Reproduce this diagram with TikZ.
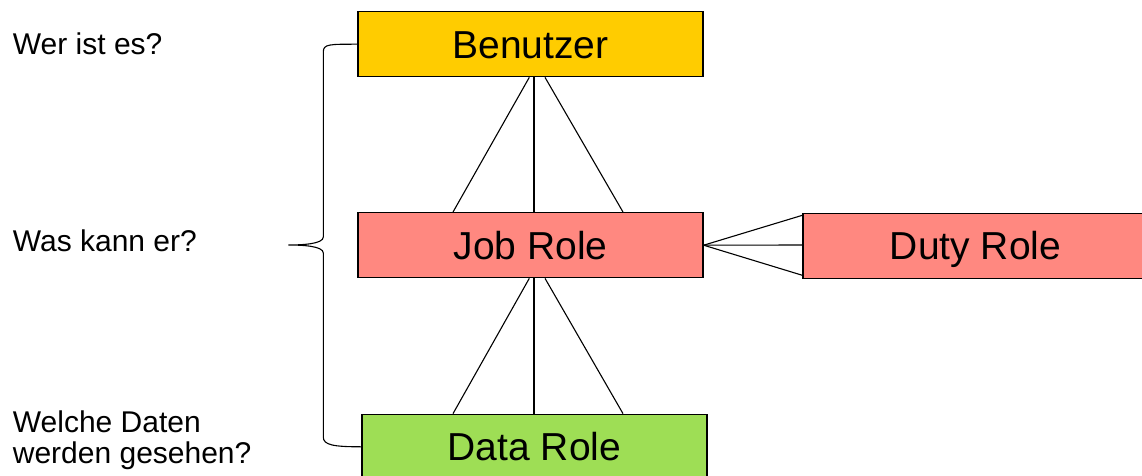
\documentclass[tikz,border=0pt]{standalone}
\usepackage{fontspec}
\setmainfont{Liberation Sans}
\usetikzlibrary{calc}
\definecolor{benfill}{RGB}{255,204,0}
\definecolor{jobfill}{RGB}{255,136,128}
\definecolor{datafill}{RGB}{158,222,85}
\tikzset{
  rolebox/.style={draw=black, line width=1.3pt, minimum width=345pt, minimum height=65pt,
    inner sep=0pt, text height=28pt, text depth=0pt, font=\fontsize{39}{47}\selectfont},
  conn/.style={draw=black, line width=1.1pt},
  brace/.style={draw=black, line width=1.1pt},
  sidelabel/.style={inner sep=0pt, align=left, font=\fontsize{30}{31}\selectfont}
}
\begin{document}
\begin{tikzpicture}[x=1pt, y=-1pt]
\useasboundingbox (0,0) rectangle (1142,476);
\clip (0,0) rectangle (1142,476);
\fill[white] (0,0) rectangle (1142,476);

\node[rolebox, fill=benfill] (ben) at (530.5,44.2) {Benutzer};
\node[rolebox, fill=jobfill] (job) at (530.5,245.2) {Job Role};
\node[rolebox, fill=datafill] (data) at (534.5,446.8) {Data Role};
\node[rolebox, fill=jobfill] (duty) at (975.5,245.8) {Duty Role};

% Benutzer -- Job Role (crow's foot)
\draw[conn] ($(ben.south)+(-1.2,0)$) -- ($(job.north)+(-77.5,0)$);
\draw[conn] ($(ben.south)+(3.5,0)$) -- ($(job.north)+(3.5,0)$);
\draw[conn] ($(ben.south)+(14.5,0)$) -- ($(job.north)+(92.5,0)$);

% Job Role -- Data Role (crow's foot)
\draw[conn] ($(job.south)+(-1.2,0)$) -- ($(data.north)+(-81.5,0)$);
\draw[conn] ($(job.south)+(3.5,0)$) -- ($(data.north)+(-0.5,0)$);
\draw[conn] ($(job.south)+(14.5,0)$) -- ($(data.north)+(88.5,0)$);

% Job Role -- Duty Role (crow's foot)
\draw[conn] (job.east) -- ($(duty.west)+(0,-30.5)$);
\draw[conn] (job.east) -- ($(duty.west)+(0,-0.8)$);
\draw[conn] (job.east) -- ($(duty.west)+(0,29.5)$);

% brace
\coordinate (tip) at (288.3,245);
\draw[brace] (ben.west) .. controls +(-28,0) and +(0,-8) .. (323.3,52)
  -- (323.3,237) .. controls +(0,7) and +(14,0) .. (tip)
  .. controls +(14,0) and +(0,-7) .. (323.3,253)
  -- (323.3,437) .. controls +(0,8) and +(-28,0) .. (data.west);

% side labels
\node[sidelabel, anchor=base west] (q1) at (12.7,54.3) {Wer ist es?};
\node[sidelabel, anchor=base west] (q2) at (12.7,251) {Was kann er?};
\node[sidelabel, anchor=north west] (q3) at (12.7,410.2) {Welche Daten\\werden gesehen?};
\end{tikzpicture}
\end{document}
